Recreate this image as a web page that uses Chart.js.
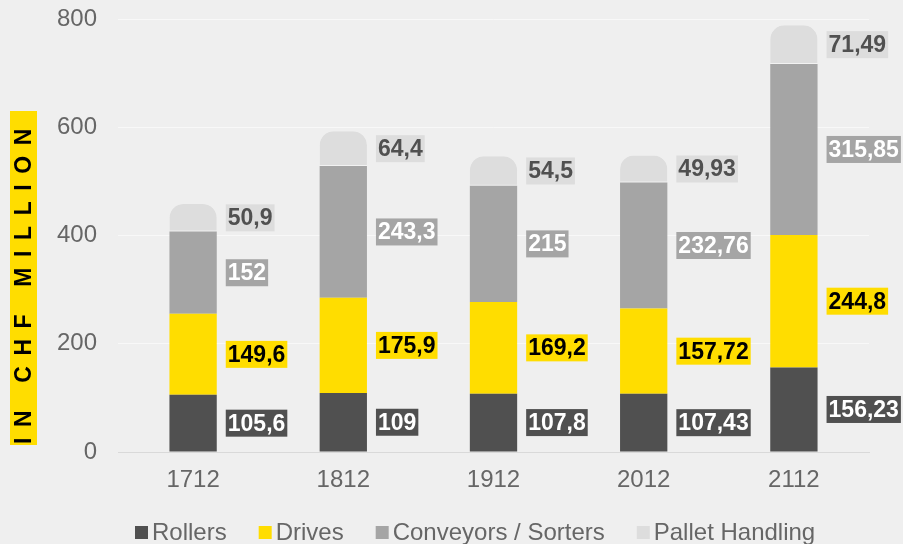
<!DOCTYPE html>
<html>
<head>
<meta charset="utf-8">
<script src="https://cdn.jsdelivr.net/npm/chart.js@4"></script>
<style>
  html, body { margin: 0; padding: 0; background: #efefef; }
  #wrap { width: 903px; height: 544px; position: relative; }
</style>
</head>
<body>
<div id="wrap"><canvas id="c"></canvas></div>
<script>
const categories = ['1712', '1812', '1912', '2012', '2112'];
const rollers = [105.6, 109, 107.8, 107.43, 156.23];
const drives = [149.6, 175.9, 169.2, 157.72, 244.8];
const conveyors = [152, 243.3, 215, 232.76, 315.85];
const pallet = [50.9, 64.4, 54.5, 49.93, 71.49];
const yTicks = [0, 200, 400, 600, 800];
const seriesNames = ['Rollers', 'Drives', 'Conveyors / Sorters', 'Pallet Handling'];
const yTitle = 'IN CHF MILLION';

const colors = ['#505050', '#FFDD00', '#A5A5A5', '#DDDDDD'];
const labelText = ['#ffffff', '#000000', '#ffffff', '#505050'];
const FONT = '"Liberation Sans", Arial, sans-serif';

const bgPlugin = {
  id: 'bg',
  beforeDraw(chart) {
    const ctx = chart.ctx;
    ctx.save();
    ctx.fillStyle = '#efefef';
    ctx.fillRect(0, 0, chart.width, chart.height);
    ctx.restore();
  }
};

const labelPlugin = {
  id: 'segLabels',
  afterDatasetsDraw(chart) {
    const ctx = chart.ctx;
    ctx.save();
    ctx.font = 'bold 23px ' + FONT;
    ctx.textBaseline = 'middle';
    ctx.textAlign = 'left';
    chart.data.datasets.forEach((ds, i) => {
      const meta = chart.getDatasetMeta(i);
      meta.data.forEach((el, j) => {
        const v = ds.data[j];
        const txt = String(v).replace('.', ',');
        const w = ctx.measureText(txt).width;
        const x = el.x + el.width / 2 + 9;
        const yc = (el.y + el.base) / 2;
        ctx.fillStyle = colors[i];
        ctx.fillRect(x, yc - 13.5, w + 4, 27);
        ctx.fillStyle = labelText[i];
        ctx.fillText(txt, x + 2, yc + 1);
      });
    });
    ctx.restore();
  }
};

const titlePlugin = {
  id: 'yTitleBox',
  afterDraw(chart) {
    const ctx = chart.ctx;
    ctx.save();
    ctx.fillStyle = '#FFDD00';
    ctx.fillRect(10, 111, 27, 334);
    ctx.translate(23.5, 444);
    ctx.rotate(-Math.PI / 2);
    ctx.font = 'bold 23px ' + FONT;
    ctx.fillStyle = '#000000';
    ctx.textBaseline = 'middle';
    ctx.textAlign = 'left';
    try { ctx.letterSpacing = '10.6px'; } catch (e) {}
    ctx.fillText(yTitle, 0, 1);
    ctx.restore();
  }
};

const legendPlugin = {
  id: 'customLegend',
  afterDraw(chart) {
    const ctx = chart.ctx;
    ctx.save();
    ctx.font = '24px ' + FONT;
    ctx.textBaseline = 'alphabetic';
    ctx.textAlign = 'left';
    let x = 135;
    chart.data.datasets.forEach((ds, i) => {
      ctx.fillStyle = colors[i];
      ctx.fillRect(x, 526, 13, 13);
      x += 17;
      ctx.fillStyle = '#666666';
      ctx.fillText(ds.label, x, 540);
      x += ctx.measureText(ds.label).width + 32;
    });
    ctx.restore();
  }
};

const seriesData = [rollers, drives, conveyors, pallet];
const datasets = seriesData.map((d, i) => ({
  label: seriesNames[i],
  data: d,
  backgroundColor: colors[i],
  borderColor: '#f2f2f2',
  borderWidth: i === 3 ? { top: 0, left: 0, right: 0, bottom: 1 } : 0,
  borderRadius: i === 3 ? { topLeft: 14, topRight: 14, bottomLeft: 0, bottomRight: 0 } : 0,
  borderSkipped: false,
  categoryPercentage: 1,
  barPercentage: 0.315
}));

new Chart(document.getElementById('c'), {
  type: 'bar',
  data: { labels: categories, datasets },
  options: {
    responsive: true,
    maintainAspectRatio: false,
    animation: false,
    layout: { padding: { top: 19, right: 34, bottom: 32, left: 0 } },
    plugins: { legend: { display: false }, tooltip: { enabled: false } },
    scales: {
      x: {
        stacked: true,
        grid: { display: false, drawTicks: false },
        border: { display: true, color: '#d9d9d9' },
        ticks: { color: '#666666', font: { family: FONT, size: 24 }, padding: 14 },
        afterFit(s) { s.height = 60; s.paddingLeft = 0; s.paddingRight = 0; }
      },
      y: {
        stacked: true,
        min: 0,
        max: 800,
        afterBuildTicks(s) { s.ticks = yTicks.map(v => ({ value: v })); },
        grid: {
          drawTicks: false,
          color: (c) => c.tick && c.tick.value === 0 ? '#d9d9d9' : '#f8f8f8'
        },
        border: { display: false },
        ticks: { color: '#666666', font: { family: FONT, size: 24 }, padding: 21 },
        afterFit(s) { s.width = 118; s.paddingTop = 0; s.paddingBottom = 0; }
      }
    }
  },
  plugins: [bgPlugin, labelPlugin, titlePlugin, legendPlugin]
});
</script>
</body>
</html>
